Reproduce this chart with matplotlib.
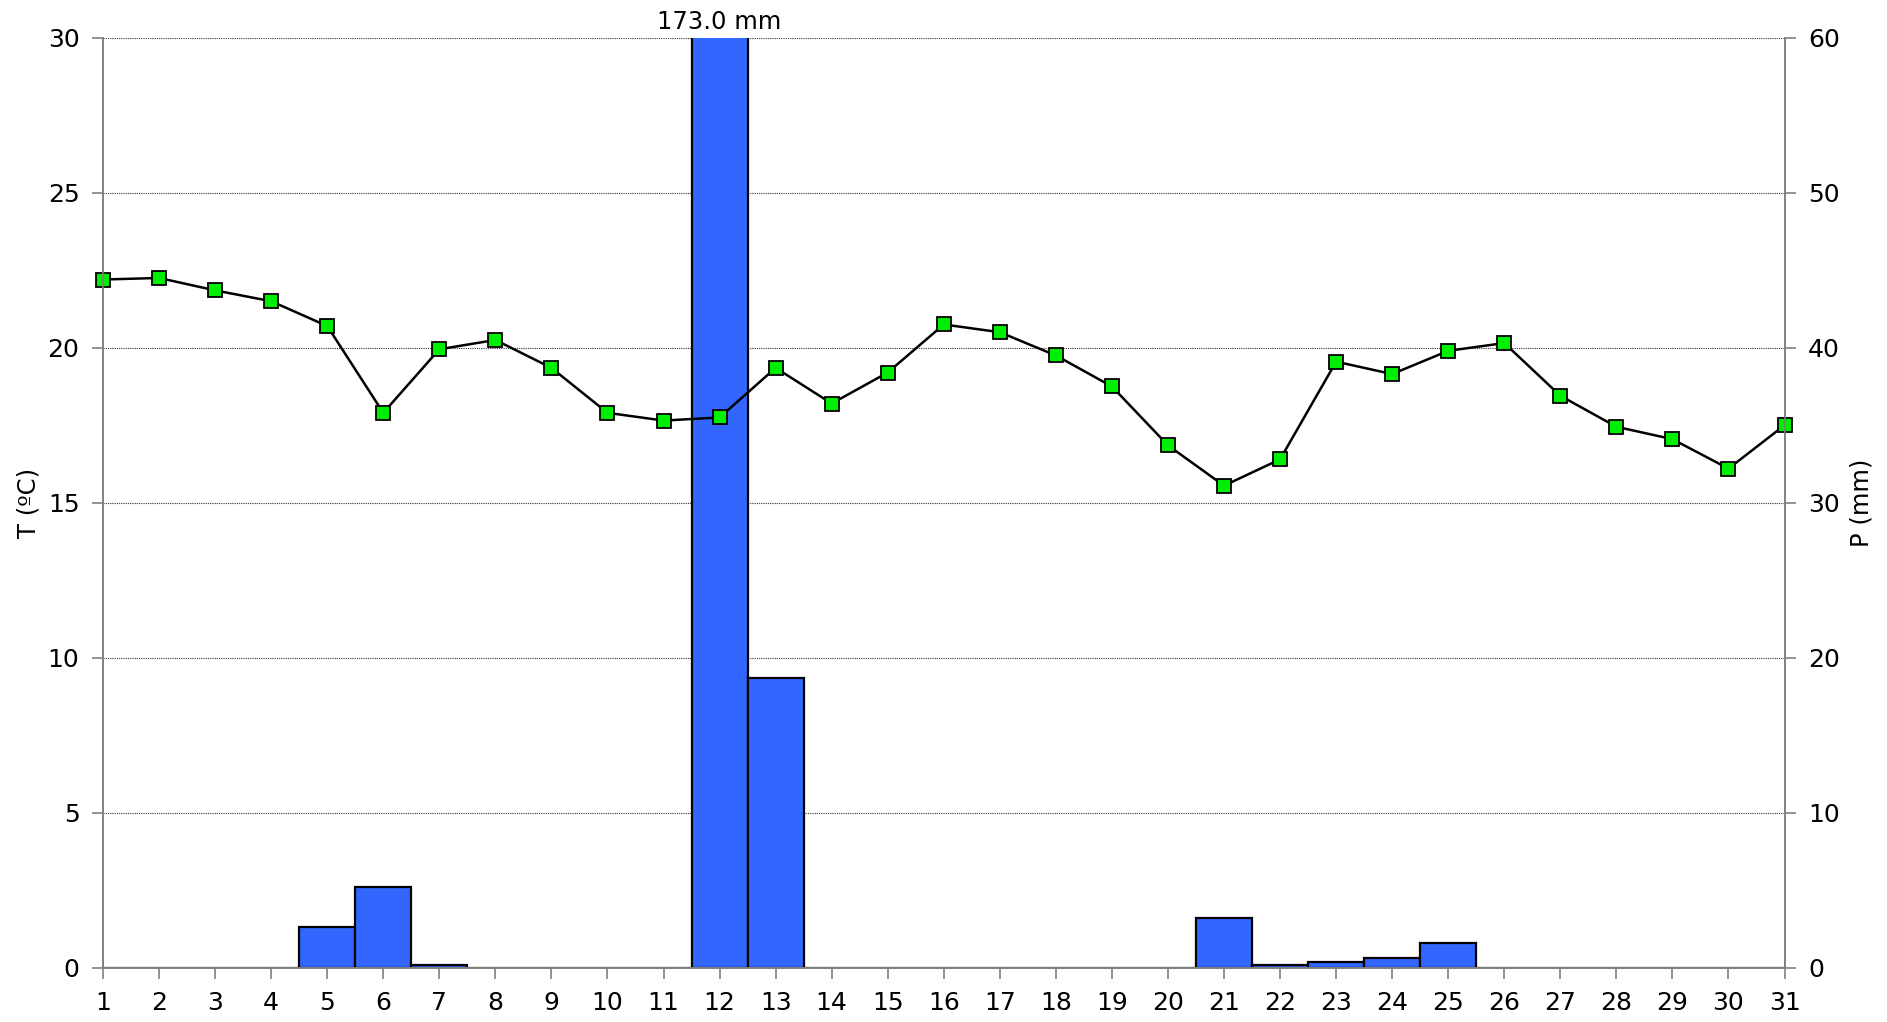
import numpy as np
import matplotlib.pyplot as plt

# daily data
days = np.arange(1, 32)
temp = [22.2, 22.25, 21.85, 21.5, 20.7, 17.9, 19.95, 20.25, 19.35, 17.9,
        17.65, 17.75, 19.35, 18.2, 19.2, 20.75, 20.5, 19.75, 18.75, 16.85,
        15.55, 16.4, 19.55, 19.15, 19.9, 20.15, 18.45, 17.45, 17.05, 16.1,
        17.5]
precip = [0, 0, 0, 0, 2.6, 5.2, 0.2, 0, 0, 0,
          0, 173.0, 18.7, 0, 0, 0, 0, 0, 0, 0,
          3.2, 0.2, 0.4, 0.6, 1.6, 0, 0, 0, 0, 0,
          0]

t_ticks = [0, 5, 10, 15, 20, 25, 30]
p_ticks = [0, 10, 20, 30, 40, 50, 60]

plt.rcParams['font.family'] = 'DejaVu Sans'

fig = plt.figure(figsize=(18.87, 10.22), dpi=100)
ax = fig.add_axes([0.0546, 0.0531, 0.8911, 0.91])
ax2 = ax.twinx()

# bars on the precipitation axis, drawn below the temperature line
ax.set_zorder(ax2.get_zorder() + 1)
ax.patch.set_visible(False)

ax2.set_axisbelow(True)
ax2.yaxis.grid(True, linestyle=(0, (1, 1)), color='#333333', linewidth=0.8)
ax2.bar(days, precip, width=1.0, color='#3366FF', edgecolor='black', linewidth=1.6)
ax2.set_ylim(0, 60)
ax2.set_yticks(p_ticks)

ax.plot(days, temp, color='black', linewidth=1.8, marker='s', markersize=10,
        markerfacecolor='#00EE00', markeredgecolor='black', markeredgewidth=1.3,
        clip_on=False)
ax.set_ylim(0, 30)
ax.set_yticks(t_ticks)
ax.set_xlim(1, 31)
ax.set_xticks(days)

# label for the bar that runs off the chart
big = int(np.argmax(precip))
ax2.annotate('%.1f mm' % precip[big], xy=(days[big], 60), xytext=(0, 6),
             textcoords='offset points', ha='center', va='baseline', fontsize=17.5,
             annotation_clip=False)

for a in (ax, ax2):
    a.spines['top'].set_visible(False)
    for s in ('left', 'right', 'bottom'):
        a.spines[s].set_color('#808080')
        a.spines[s].set_linewidth(1.2)
    a.tick_params(axis='both', direction='out', length=8, width=1.2, color='#808080',
                  labelsize=18, pad=9)

ax.set_ylabel('T (ºC)', fontsize=17.5, labelpad=5)
ax2.set_ylabel('P (mm)', fontsize=17.5, labelpad=7)

fig.savefig('out.png', dpi=100)
